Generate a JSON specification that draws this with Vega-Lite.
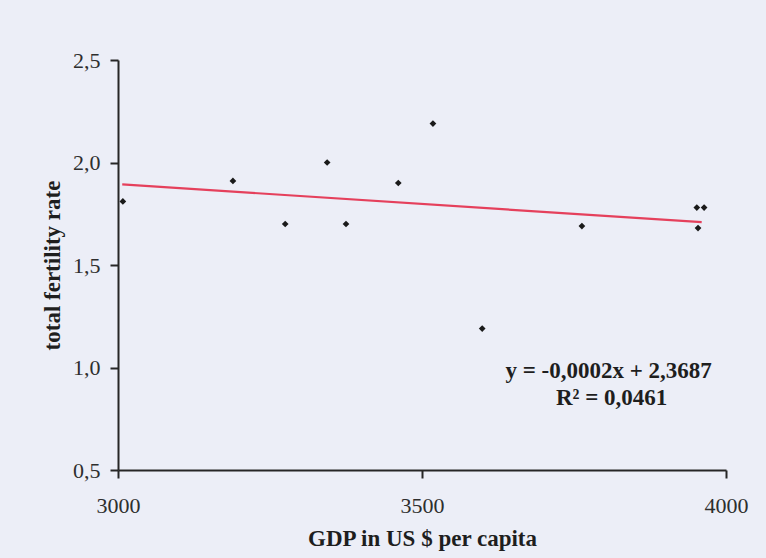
{
  "$schema": "https://vega.github.io/schema/vega-lite/v6.json",
  "autosize": {"type": "none"},
  "width": 608,
  "height": 410,
  "padding": {"left": 118, "top": 60, "right": 40, "bottom": 88},
  "background": "#eceef7",
  "config": {
    "view": {"stroke": null},
    "font": "Liberation Serif",
    "axis": {
      "grid": false,
      "domainColor": "#262626",
      "domainWidth": 2,
      "tickColor": "#262626",
      "tickWidth": 2,
      "tickSize": 8,
      "labelFont": "Liberation Serif",
      "labelFontSize": 22,
      "labelColor": "#2e2e2e",
      "labelFlush": false,
      "titleFont": "Liberation Serif",
      "titleFontSize": 23,
      "titleFontWeight": "bold",
      "titleColor": "#1e1e1e"
    }
  },
  "datasets": {
    "points": [
      {"gdp": 3008, "tfr": 1.81},
      {"gdp": 3189, "tfr": 1.91},
      {"gdp": 3275, "tfr": 1.70},
      {"gdp": 3344, "tfr": 2.00},
      {"gdp": 3375, "tfr": 1.70},
      {"gdp": 3461, "tfr": 1.90},
      {"gdp": 3518, "tfr": 2.19},
      {"gdp": 3599, "tfr": 1.19},
      {"gdp": 3763, "tfr": 1.69},
      {"gdp": 3952, "tfr": 1.78},
      {"gdp": 3964, "tfr": 1.78},
      {"gdp": 3954, "tfr": 1.68}
    ],
    "trend": [
      {"gdp": 3007, "tfr": 1.893},
      {"gdp": 3960, "tfr": 1.709}
    ],
    "labels": [
      {"gdp": 3807, "tfr": 0.983, "text": "y = -0,0002x + 2,3687"},
      {"gdp": 3812, "tfr": 0.851, "text": "R² = 0,0461"}
    ]
  },
  "layer": [
    {
      "data": {"name": "trend"},
      "mark": {"type": "line", "color": "#e5405c", "strokeWidth": 2.2},
      "encoding": {
        "x": {
          "field": "gdp", "type": "quantitative",
          "scale": {"domain": [3000, 4000], "nice": false, "zero": false},
          "axis": {
            "title": "GDP in US $ per capita",
            "values": [3000, 3500, 4000],
            "format": "d",
            "labelPadding": 17,
            "titlePadding": 11
          }
        },
        "y": {
          "field": "tfr", "type": "quantitative",
          "scale": {"domain": [0.5, 2.5], "nice": false, "zero": false},
          "axis": {
            "title": "total fertility rate",
            "values": [0.5, 1, 1.5, 2, 2.5],
            "labelExpr": "replace(format(datum.value, '.1f'), '.', ',')",
            "labelPadding": 10,
            "titlePadding": 8
          }
        }
      }
    },
    {
      "data": {"name": "points"},
      "mark": {"type": "point", "shape": "diamond", "filled": true, "color": "#1a1a1a", "size": 45, "opacity": 1},
      "encoding": {
        "x": {"field": "gdp", "type": "quantitative", "scale": {"domain": [3000, 4000], "nice": false, "zero": false}},
        "y": {"field": "tfr", "type": "quantitative", "scale": {"domain": [0.5, 2.5], "nice": false, "zero": false}}
      }
    },
    {
      "data": {"name": "labels"},
      "mark": {"type": "text", "font": "Liberation Serif", "fontSize": 23, "fontWeight": "bold", "color": "#1e1e1e", "align": "center", "baseline": "middle"},
      "encoding": {
        "x": {"field": "gdp", "type": "quantitative", "scale": {"domain": [3000, 4000], "nice": false, "zero": false}},
        "y": {"field": "tfr", "type": "quantitative", "scale": {"domain": [0.5, 2.5], "nice": false, "zero": false}},
        "text": {"field": "text"}
      }
    }
  ]
}
